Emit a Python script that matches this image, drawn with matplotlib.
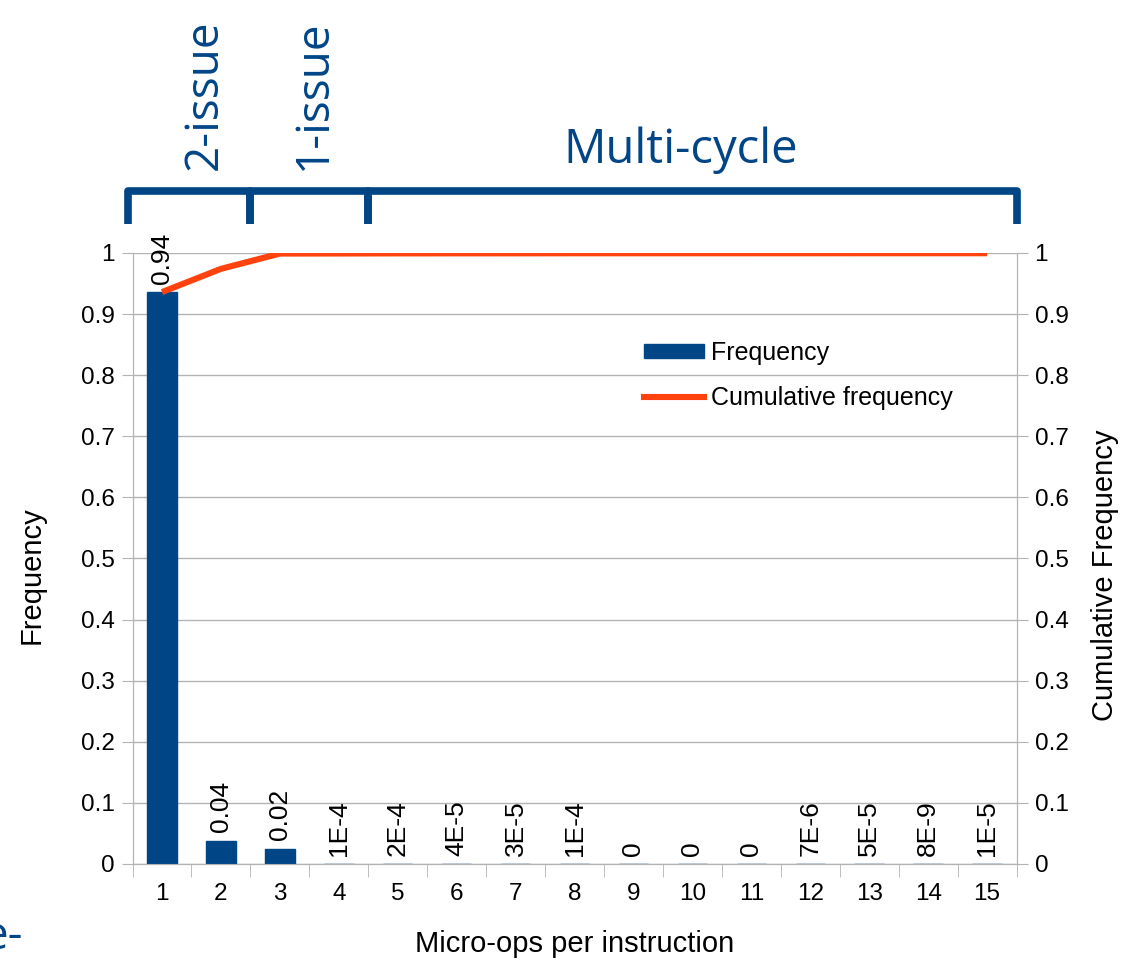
"""Micro-ops per instruction: frequency and cumulative frequency."""

import matplotlib
matplotlib.use('Agg')
import matplotlib.pyplot as plt
from matplotlib.lines import Line2D
from matplotlib.patches import Patch
import matplotlib.transforms as mtransforms
import numpy as np

plt.rcParams['font.family'] = ['Liberation Sans', 'DejaVu Sans']

# datos
micro_ops = list(range(1, 16))
frequency = [0.936, 0.038, 0.025, 1e-4, 2e-4, 4e-5, 3e-5, 1e-4,
             0, 0, 0, 7e-6, 5e-5, 8e-9, 1e-5]
value_labels = ['0.94', '0.04', '0.02', '1E-4', '2E-4', '4E-5', '3E-5', '1E-4',
                '0', '0', '0', '7E-6', '5E-5', '8E-9', '1E-5']
cumulative = list(np.cumsum(frequency))
y_ticks = [round(0.1 * i, 1) for i in range(11)]
y_tick_labels = ['0', '0.1', '0.2', '0.3', '0.4', '0.5', '0.6', '0.7', '0.8', '0.9', '1']

# grupos de la parte de arriba: (texto, desde, hasta, x del texto, rotado)
groups = [
    ('2-issue', 0.5, 2.5, 1.72, True),
    ('1-issue', 2.5, 4.5, 3.57, True),
    ('Multi-cycle', 4.5, 15.5, 9.8, False),
]

BLUE = '#004586'
ORANGE = '#ff420e'
GRID = '#b3b3b3'
FS = 17.5      # numeros de los ejes
FS_LAB = 21    # titulos de los ejes
FS_VAL = 19    # etiquetas de las barras

fig = plt.figure(figsize=(11.28, 9.6), dpi=100)
ax = fig.add_axes([0.1175, 0.1, 0.7837, 0.6365])
ax2 = ax.twinx()

ax.bar(micro_ops, frequency, width=0.5, color=BLUE, edgecolor=BLUE,
       linewidth=1, zorder=3)
for x, v, lab in zip(micro_ops, frequency, value_labels):
    ax.annotate(lab, (x, v), xytext=(0, 6), textcoords='offset points',
                rotation=90, ha='center', va='bottom', fontsize=FS_VAL, zorder=4)

ax2.plot(micro_ops, cumulative, color=ORANGE, linewidth=4.4,
         solid_capstyle='butt', zorder=5)

for a in (ax, ax2):
    a.set_xlim(0.5, 15.5)
    a.set_ylim(0, 1)
    a.set_yticks(y_ticks)
    a.set_yticklabels(y_tick_labels)
    for s in a.spines.values():
        s.set_color(GRID)
    a.spines['top'].set_visible(False)
    a.tick_params(axis='y', length=8, color=GRID, labelsize=FS, pad=5)

ax.set_xticks(micro_ops)
ax.set_xticklabels([str(m) for m in micro_ops])
ax.set_xticks(np.arange(0.5, 16, 1), minor=True)
ax.tick_params(axis='x', which='major', length=0, labelsize=FS, pad=14)
ax.tick_params(axis='x', which='minor', length=9, color=GRID)
ax.yaxis.grid(True, color=GRID, linewidth=1)
ax.set_axisbelow(True)

ax.set_xlabel('Micro-ops per instruction', fontsize=FS_LAB, labelpad=18)
ax.set_ylabel('Frequency', fontsize=FS_LAB)
ax.yaxis.set_label_coords(-0.098, 0.473)
ax2.set_ylabel('Cumulative Frequency', fontsize=FS_LAB)
ax2.yaxis.set_label_coords(1.084, 0.473)

handles = [Patch(facecolor=BLUE, edgecolor=BLUE),
           Line2D([], [], color=ORANGE, linewidth=4.4)]
ax2.legend(handles, ['Frequency', 'Cumulative frequency'],
           loc='upper left', bbox_to_anchor=(0.553, 0.893), frameon=False,
           fontsize=18, handlelength=2.4, handleheight=0.5,
           handletextpad=0.3, labelspacing=0.85)

# corchetes de arriba
trans = mtransforms.blended_transform_factory(ax.transData, ax.transAxes)
y_top, y_bot = 1.102, 1.047
for text, x0, x1, xt, rot in groups:
    ax.plot([x0 - 0.08 * (x0 == 0.5), x0 - 0.08 * (x0 == 0.5), x1, x1],
            [y_bot, y_top, y_top, y_bot], transform=trans,
            color=BLUE, linewidth=5.5, clip_on=False, solid_joinstyle='round',
            solid_capstyle='butt')
    if rot:
        ax.text(xt, 1.135, text, transform=trans, rotation=90, ha='center',
                va='bottom', color=BLUE, fontsize=33, family='Open Sans')
    else:
        ax.text(xt, 1.13, text, transform=trans, ha='center', va='bottom',
                color=BLUE, fontsize=34, family='Open Sans')

# texto cortado en la esquina
fig.text(23 / 1128, 0.0, 'e-', ha='right', va='bottom', color=BLUE,
         fontsize=33, family='Open Sans')

fig.savefig('out.png', dpi=100)
